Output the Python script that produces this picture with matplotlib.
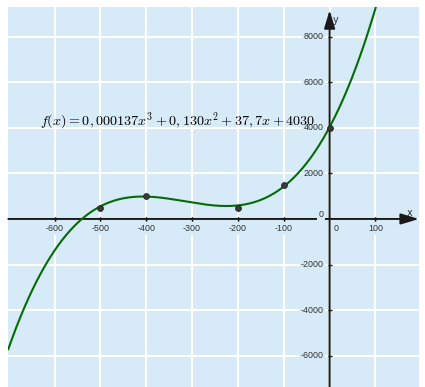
import matplotlib.pyplot as plt
import numpy as np

# Data
coeffs = [0.000137, 0.130, 37.7, 4030]          # f(x) from the chart text
point_x = [-500, -400, -200, -100, 0]
point_y = [500, 1000, 500, 1500, 4000]
x_ticks = [-600, -500, -400, -300, -200, -100, 100]
y_ticks = [-6000, -4000, -2000, 2000, 4000, 6000, 8000]
formula = r'$f(x) = 0,000137x^3 + 0,130x^2 + 37,7x + 4030$'

bg = '#d6ebf7'
label_col = '#333333'
plt.rcParams['mathtext.fontset'] = 'cm'

fig = plt.figure(figsize=(4.25, 3.87), dpi=100)
fig.set_facecolor('white')
ax = fig.add_axes([8.3 / 425, 0.0, (419 - 8.3) / 425, (387 - 6.7) / 387])
ax.set_facecolor(bg)
ax.set_xlim(-701, 195)
ax.set_ylim(-7370, 9310)

# White grid
ax.set_xticks(x_ticks + [0])
ax.set_yticks(y_ticks + [0])
ax.grid(color='white', linewidth=1.5)
ax.tick_params(length=0, labelbottom=False, labelleft=False)
for s in ax.spines.values():
    s.set_visible(False)

# Axes through the origin with arrows
arrow = dict(arrowstyle='-|>,head_length=1.1,head_width=0.33', color='#1a1a1a',
             lw=1.4, shrinkA=0, shrinkB=0, mutation_scale=10)
ax.annotate('', xy=(1, 0), xycoords=('axes fraction', 'data'),
            xytext=(0, 0), textcoords=('axes fraction', 'data'), arrowprops=arrow, zorder=4)
ax.annotate('', xy=(0, 0.991), xycoords=('data', 'axes fraction'),
            xytext=(0, 0), textcoords=('data', 'axes fraction'), arrowprops=arrow, zorder=4)
ax.annotate('x', xy=(1, 0), xycoords=('axes fraction', 'data'), xytext=(-7, 4.5),
            textcoords='offset points', ha='center', va='center', fontsize=7, color=label_col)
ax.annotate('y', xy=(0, 1), xycoords=('data', 'axes fraction'), xytext=(4, -9.5),
            textcoords='offset points', ha='center', va='center', fontsize=7, color=label_col)

box = dict(facecolor=bg, edgecolor='none', pad=1.2)
font = dict(fontsize=6.4, color=label_col, family='Liberation Sans')

for t in x_ticks:
    ax.annotate(str(t), xy=(t, 0), xytext=(0, -6.8), textcoords='offset points',
                ha='center', va='center', bbox=box, zorder=5, **font)
    ax.plot([t, t], [0, 0], marker='|', markersize=3, color='#1a1a1a', zorder=4)
ax.annotate('0', xy=(0, 0), xytext=(4.8, -6.8), textcoords='offset points',
            ha='center', va='center', bbox=box, zorder=5, **font)

for t in y_ticks:
    ax.annotate(str(t), xy=(0, t), xytext=(-4.3, 0), textcoords='offset points',
                ha='right', va='center', bbox=box, zorder=5, **font)
    ax.plot([0], [t], marker='_', markersize=3, color='#1a1a1a', zorder=4)
ax.annotate('0', xy=(0, 0), xytext=(-4.3, 3.2), textcoords='offset points',
            ha='right', va='center', bbox=box, zorder=5, **font)

# Curve and points
xs = np.linspace(-701, 195, 600)
ax.plot(xs, np.polyval(coeffs, xs), color='#056b05', linewidth=1.5, zorder=6)
ax.plot(point_x, point_y, 'o', markersize=4.2, color='#3a3a3a',
        markeredgecolor='#222222', markeredgewidth=0.6, zorder=7)

ax.text(-632, 4300, formula, fontsize=10.2, ha='left', va='center', zorder=8)

fig.savefig('out.png', dpi=100, facecolor='white')
